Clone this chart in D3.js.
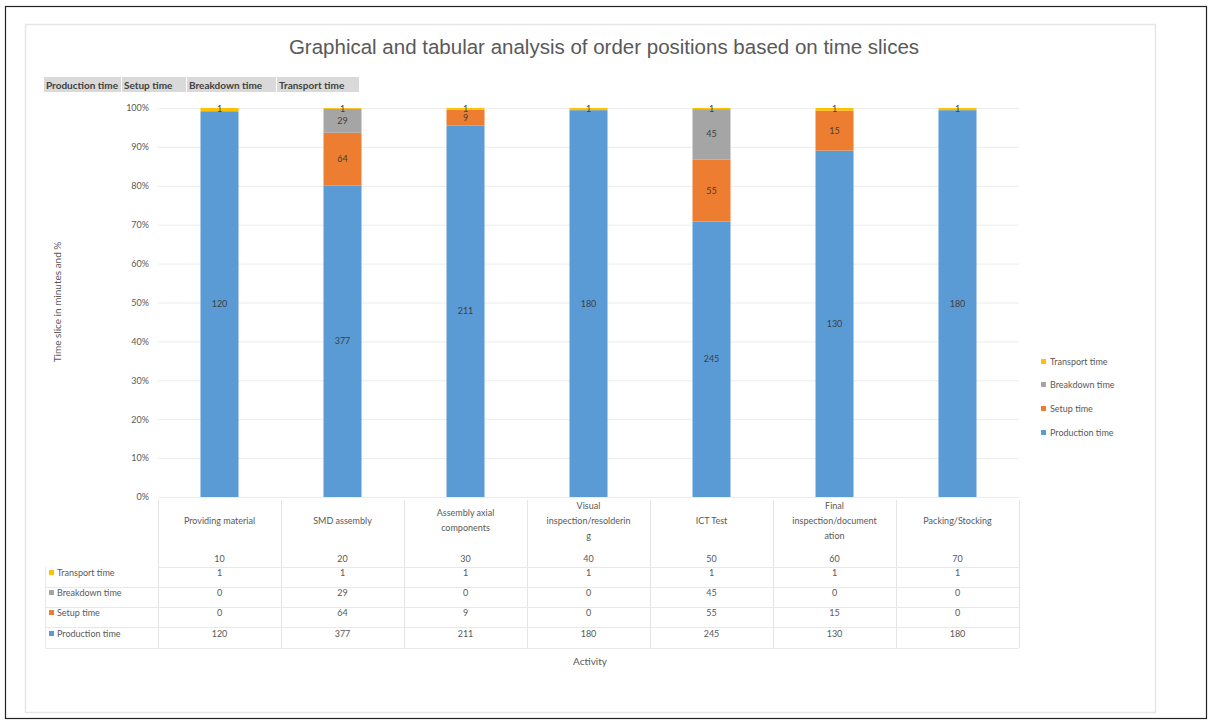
<!DOCTYPE html>
<html><head><meta charset="utf-8">
<script src="https://cdn.jsdelivr.net/npm/d3@7"></script>
<style>body{margin:0;background:#fff;}svg{display:block;}</style>
</head><body>
<svg id="chart" width="1210" height="722"></svg>
<script>
const categories = ["Providing material","SMD assembly","Assembly axial components","Visual inspection/resoldering","ICT Test","Final inspection/documentation","Packing/Stocking"];
const categoryLines = [["Providing material"],["SMD assembly"],["Assembly axial","components"],["Visual","inspection/resolderin","g"],["ICT Test"],["Final","inspection/document","ation"],["Packing/Stocking"]];
const positions = [10,20,30,40,50,60,70];
const seriesNames = ["Production time","Setup time","Breakdown time","Transport time"];
const production = [120,377,211,180,245,130,180];
const setup = [0,64,9,0,55,15,0];
const breakdown = [0,29,0,0,45,0,0];
const transport = [1,1,1,1,1,1,1];
const yTicks = [0,0.1,0.2,0.3,0.4,0.5,0.6,0.7,0.8,0.9,1.0];
const colors = ["#5B9BD5","#ED7D31","#A5A5A5","#FFC000"];

const seriesValues = [production, setup, breakdown, transport];
const rows = categories.map((c,i)=>{const o={cat:c}; seriesNames.forEach((s,j)=>o[s]=seriesValues[j][i]); return o;});

const svg = d3.select("#chart");
const font = "Lato, 'Open Sans', sans-serif";

// outer frame
svg.append("rect").attr("x",5.5).attr("y",6.5).attr("width",1201).attr("height",712).attr("fill","#fff").attr("stroke","#222").attr("stroke-width",1.2);
svg.append("rect").attr("x",25.5).attr("y",24.5).attr("width",1130).attr("height",688).attr("fill","#fff").attr("stroke","#e6e6e6").attr("stroke-width",1.5);

// title
svg.append("text").attr("x",604).attr("y",54).attr("text-anchor","middle").attr("font-family","'Liberation Sans', Arial, sans-serif").attr("font-size",20.5).attr("fill","#595959").text("Graphical and tabular analysis of order positions based on time slices");

// top field buttons
const fb = svg.append("g");
let fx = 44;
const fw = [77, 64, 89, 82];
seriesNames.forEach((s,i)=>{
  fb.append("rect").attr("x",fx).attr("y",77).attr("width",fw[i]).attr("height",15).attr("fill","#d9d9d9");
  fb.append("text").attr("x",fx+2).attr("y",88.5).attr("font-family",font).attr("font-size",10).attr("font-weight","bold").attr("fill","#404040").text(s);
  fx += fw[i] + 1;
});

const x = d3.scaleBand().domain(categories).range([158,1019]).padding(0);
const y = d3.scaleLinear().domain([0,1]).range([497,108]);
const barW = 38;

// gridlines
svg.append("g").selectAll("line").data(yTicks).join("line")
  .attr("x1",158).attr("x2",1019).attr("y1",d=>y(d)+0.5).attr("y2",d=>y(d)+0.5)
  .attr("stroke","#ececec").attr("stroke-width",1);

// y axis labels
const yAxis = d3.axisLeft(y).tickValues(yTicks).tickFormat(d3.format(".0%")).tickSize(0).tickPadding(0);
const ga = svg.append("g").attr("transform","translate(149,0)").call(yAxis);
ga.select(".domain").remove();
ga.selectAll("text").attr("font-family",font).attr("font-size",9).attr("fill","#595959");

// y title
svg.append("text").attr("transform","translate(61,302) rotate(-90)").attr("text-anchor","middle").attr("font-family",font).attr("font-size",10).attr("fill","#595959").text("Time slice in minutes and %");

// stacks
const stack = d3.stack().keys(seriesNames).offset(d3.stackOffsetExpand);
const stacked = stack(rows);
const gBars = svg.append("g");
stacked.forEach((layer,li)=>{
  gBars.append("g").selectAll("rect").data(layer).join("rect")
    .attr("x",d=>x(d.data.cat)+x.bandwidth()/2-barW/2)
    .attr("width",barW)
    .attr("y",d=>y(d[1]))
    .attr("height",d=>Math.max(0,y(d[0])-y(d[1])))
    .attr("fill",colors[li]);
});
// labels
stacked.forEach((layer,li)=>{
  const key = seriesNames[li];
  const isTop = li===3;
  gBars.append("g").selectAll("text").data(layer.filter(d=>d.data[key]>0)).join("text")
    .attr("x",d=>x(d.data.cat)+x.bandwidth()/2)
    .attr("y",d=>isTop ? y(d[1])+3.5 : (y(d[0])+y(d[1]))/2+3)
    .attr("text-anchor","middle").attr("font-family",font).attr("font-size",9).attr("fill","#404040")
    .text(d=>d.data[key]);
});

// table
const tg = svg.append("g");
const edges = categories.map(c=>x(c)).concat([x.range()[1]]);
tg.selectAll("line.v").data(edges).join("line").attr("class","v")
  .attr("x1",d=>d+0.5).attr("x2",d=>d+0.5).attr("y1",500).attr("y2",648).attr("stroke","#e4e4e4");
const rowY = [577,597,617,638];
const hLines = [567,587,607,627,648];
tg.selectAll("line.h").data(hLines).join("line").attr("class","h")
  .attr("x1",(d,i)=>i===0?158:45).attr("x2",1019).attr("y1",d=>d+0.5).attr("y2",d=>d+0.5).attr("stroke","#e8e8e8");
tg.append("line").attr("x1",45.5).attr("x2",45.5).attr("y1",567).attr("y2",648).attr("stroke","#e8e8e8");

// category labels
categories.forEach((c,i)=>{
  const lines = categoryLines[i];
  const cx = x(c)+x.bandwidth()/2;
  const startY = lines.length===1?524:(lines.length===2?516:509);
  lines.forEach((ln,k)=>{
    tg.append("text").attr("x",cx).attr("y",startY+k*15).attr("text-anchor","middle").attr("font-family",font).attr("font-size",9).attr("fill","#595959").text(ln);
  });
  tg.append("text").attr("x",cx).attr("y",562).attr("text-anchor","middle").attr("font-family",font).attr("font-size",9).attr("fill","#595959").text(positions[i]);
});
// table rows: transport, breakdown, setup, production
const tableOrder = [3,2,1,0];
tableOrder.forEach((si,r)=>{
  const yy = rowY[r];
  tg.append("rect").attr("x",49).attr("y",yy-7).attr("width",5).attr("height",5).attr("fill",colors[si]);
  tg.append("text").attr("x",57).attr("y",yy-1).attr("font-family",font).attr("font-size",9).attr("fill","#595959").text(seriesNames[si]);
  seriesValues[si].forEach((v,i)=>{
    tg.append("text").attr("x",x(categories[i])+x.bandwidth()/2).attr("y",yy-1).attr("text-anchor","middle").attr("font-family",font).attr("font-size",9).attr("fill","#595959").text(v);
  });
});
svg.append("text").attr("x",590).attr("y",665).attr("text-anchor","middle").attr("font-family",font).attr("font-size",10).attr("fill","#595959").text("Activity");

// right legend
const legY = [363,386,410,434];
tableOrder.forEach((si,r)=>{
  svg.append("rect").attr("x",1041).attr("y",legY[r]-4).attr("width",5).attr("height",5).attr("fill",colors[si]);
  svg.append("text").attr("x",1050).attr("y",legY[r]+2).attr("font-family",font).attr("font-size",9).attr("fill","#595959").text(seriesNames[si]);
});
</script>
</body></html>
